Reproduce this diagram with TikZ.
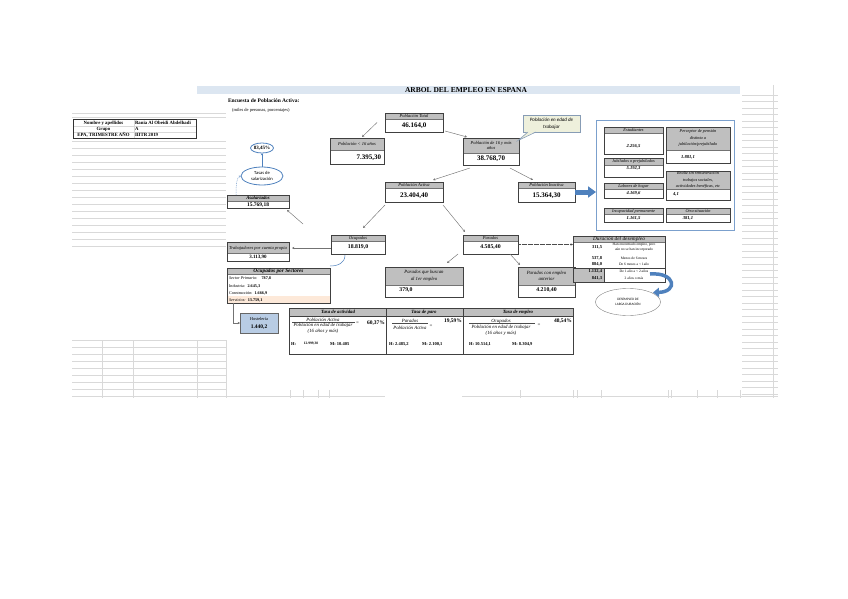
\documentclass[tikz,border=0pt]{standalone}
\usepackage{fontspec}
\setmainfont{Liberation Serif}
\newfontfamily\zSans{Carlito}
\usetikzlibrary{fit,shapes.geometric,arrows.meta}
\definecolor{hdrgray}{HTML}{BFBFBF}
\definecolor{titlebar}{HTML}{DCE6F1}
\definecolor{eblue}{HTML}{4F81BD}
\definecolor{lblue}{HTML}{B8CCE4}
\definecolor{peach}{HTML}{FDE9D9}
\definecolor{callfill}{HTML}{EEF0DC}
\newcommand\zH{\fontsize{4.5}{5.5}\selectfont\itshape}
\newcommand\zHB{\fontsize{4.8}{5.5}\selectfont\itshape\bfseries}
\newcommand\zV{\fontsize{7}{8}\selectfont\bfseries}
\newcommand\zVm{\fontsize{5.8}{7}\selectfont\bfseries}
\newcommand\zR{\fontsize{4.3}{6.3}\selectfont\itshape}
\newcommand\zRV{\fontsize{4.6}{5.5}\selectfont\itshape\bfseries}
\newcommand\zT{\fontsize{4.8}{5.5}\selectfont\bfseries}
\newcommand\zD{\fontsize{3.6}{4.4}\selectfont}
\newcommand\zDN{\fontsize{4.5}{5}\selectfont\bfseries}
\newcommand\zS{\fontsize{4.2}{5}\selectfont}
\newcommand\zF{\fontsize{4.8}{5.5}\selectfont\itshape}
\newcommand\zP{\fontsize{5.5}{6}\selectfont\bfseries}
\newcommand\zB{\fontsize{4.5}{5}\selectfont\bfseries}
\tikzset{
  frame/.style={draw=black!75, line width=0.9pt, inner sep=0pt},
  arr/.style={draw=black!55, line width=0.45pt, -{Stealth[length=2.4pt,width=2.4pt]}},
  gridl/.style={draw=black!15, line width=0.35pt},
}
\newcommand\ebox[6]{%
  \fill[hdrgray] (#2,#3) rectangle (#4,#6);
  \draw[black!55,line width=0.3pt] (#2,#6) -- (#4,#6);
  \node[frame,fit={(#2,#3) (#4,#5)}] (#1) {};}
\begin{document}
\begin{tikzpicture}[x=1pt,y=-1pt, every node/.style={inner sep=0pt, outer sep=0pt}]
\useasboundingbox (0,0) rectangle (848,599);
% ---------- faint spreadsheet grid ----------
\foreach \y in {113,117,141,148,...,246} {\draw[gridl] (72,\y) -- (226,\y);}
\foreach \y in {340,347,...,389} {\draw[gridl] (72,\y) -- (226,\y);}
\foreach \x in {102,133,197,226} {\draw[gridl] (\x,340) -- (\x,398);}
\foreach \y in {95,101.5,...,395} {\draw[gridl] (742,\y) -- (778,\y);}
\draw[gridl] (773,85) -- (773,398);
\draw[gridl] (72,396) -- (385,396);
\draw[gridl] (462,396) -- (778,396);
\foreach \x in {290,303,318,329,520,573,577,601,668,671,697,717,740} {\draw[gridl] (\x,390) -- (\x,398);}
% ---------- title ----------
\fill[titlebar] (197,86) rectangle (740,94);
\node (title) at (466,90) {\fontsize{7.5}{8}\selectfont\bfseries ARBOL DEL EMPLEO EN ESPANA};
\node[anchor=west] (enc) at (228,101) {\fontsize{5.5}{6}\selectfont\bfseries Encuesta de Población Activa:};
\node[anchor=west] (miles) at (232,110) {\fontsize{4.5}{5}\selectfont (miles de personas, porcentajes)};
% ---------- left table ----------
\draw[gridl] (73,126) -- (196,126);
\draw[gridl] (73,132) -- (196,132);
\draw[gridl] (134,119) -- (134,138);
\node[draw=black!80, line width=0.8pt, fit={(73,119) (196,138)}] (ltab) {};
\node (l1a) at (103.5,123) {\zT Nombre y apellidos};
\node[anchor=west] (l1b) at (135,123) {\zT Rania Al Obeidi Abdelhadi};
\node (l2a) at (103.5,129) {\zT Grupo};
\node[anchor=west] (l2b) at (135,129) {\zT A};
\node (l3a) at (103.5,135) {\zT EPA, TRIMESTRE AÑO};
\node[anchor=west] (l3b) at (135,135) {\zT IIITR 2019};
% ---------- main tree boxes ----------
\ebox{tot}{385}{113}{443}{132}{119}
\node (toth) at (414,116) {\zH Población Total};
\node (totv) at (414,126) {\zV 46.164,0};
\ebox{men}{330}{138}{384}{164}{150}
\node (menh) at (357,144) {\zH Población < 16 años};
\node[anchor=east] (menv) at (381,158) {\zV 7.395,30};
\ebox{may}{463}{138}{519}{165}{153}
\node[align=center, font=\zH] (mayh) at (491,145.5) {Población de 16 y más\\años};
\node (mayv) at (491,159) {\zV 38.768,70};
\ebox{act}{385}{182}{443}{202}{188}
\node (acth) at (414,185) {\zH Población Activa};
\node (actv) at (414,195.5) {\zV 23.404,40};
\ebox{ina}{518}{182}{575}{202}{188}
\node (inah) at (546.5,185) {\zH Población Inactiva};
\node (inav) at (546.5,195.5) {\zV 15.364,30};
\ebox{ocu}{331}{235}{385}{254}{241}
\node (ocuh) at (358,238) {\zH Ocupados};
\node (ocuv) at (358,247.5) {\zVm 18.819,0};
\ebox{par}{463}{235}{518}{254}{241}
\node (parh) at (490.5,238) {\zH Parados};
\node (parv) at (490.5,247.5) {\zVm 4.585,40};
\ebox{bus}{385}{267}{463}{297}{285}
\node[align=center, font=\fontsize{4.8}{6.5}\selectfont\itshape] (bush) at (424,276) {Parados que buscan\\al 1er empleo};
\node (busv) at (406,290.5) {\zVm 379,0};
\ebox{ant}{518}{267}{575}{297}{285}
\node[align=center, font=\fontsize{4.8}{6.5}\selectfont\itshape] (anth) at (546.5,276) {Parados con empleo\\anterior};
\node (antv) at (546.5,290.5) {\zVm 4.210,40};
% callout
\node[draw=eblue!70!black!60, fill=callfill, line width=0.6pt, minimum width=57pt, minimum height=17pt, align=center, font=\zSans\itshape\fontsize{5}{6.5}\selectfont] (cal) at (551.5,123.5) {Población en edad de\\trabajar};
\coordinate (calt) at (518,140.5);
\fill[callfill] ([xshift=5pt,yshift=0.6pt]cal.south west) -- (calt) -- ([xshift=13pt,yshift=0.6pt]cal.south west) -- cycle;
\draw[eblue!70!black!60, line width=0.6pt] ([xshift=5pt]cal.south west) -- (calt) -- ([xshift=13pt]cal.south west);
% ---------- right box (inactive) ----------
\node[draw=eblue!75, line width=0.7pt, fit={(596,120) (734,230)}] (rbox) {};
\ebox{est}{604}{127}{663}{154}{133}
\node (esth) at (633.5,130) {\zR Estudiantes};
\node (estv) at (633.5,146) {\zRV 2.256,5};
\ebox{per}{666}{127}{730}{163}{150}
\node[align=center, font=\zR] (perh) at (698,138) {Perceptor de pensión\\distinta a\\jubilación/prejubilado};
\node (perv) at (688,157) {\zRV 1.881,1};
\ebox{jub}{604}{158}{663}{177}{165}
\node (jubh) at (633.5,161.5) {\zR Jubilados o prejubilados};
\node (jubv) at (633.5,168.5) {\zRV 5.192,3};
\ebox{rea}{666}{171}{730}{200}{189}
\node[align=center, font=\zR] (reah) at (698,180) {Realiz sin remuneración\\trabajos sociales,\\actividades benéficas, etc};
\node (reav) at (676,194) {\zRV 4,1};
\ebox{lab}{604}{183}{663}{198}{189}
\node (labh) at (633.5,186) {\zR Labores de hogar};
\node (labv) at (633.5,193) {\zRV 4.169,6};
\ebox{inc}{604}{208}{663}{222}{214}
\node (inch) at (633.5,211) {\zR Incapacidad permanente};
\node (incv) at (633.5,218) {\zRV 1.161,5};
\ebox{otr}{666}{208}{730}{222}{214}
\node (otrh) at (698,211) {\zR Otra situación};
\node (otrv) at (688,218) {\zRV 381,1};
% ---------- left side ----------
\node[ellipse, draw=eblue, line width=0.8pt, minimum width=23pt, minimum height=10pt] (pct) at (262,148) {\fontsize{5}{6}\selectfont\bfseries 83,45\%};
\node[ellipse, draw=eblue, line width=0.8pt, minimum width=42pt, minimum height=18pt, align=center, font=\zSans\fontsize{4.6}{5.6}\selectfont] (tas) at (262,176) {Tasas de\\salarización};
\ebox{asa}{227}{195}{289}{208}{201}
\node (asah) at (258,198) {\zHB Asalariados};
\node (asav) at (258,205) {\fontsize{5.5}{6}\selectfont\bfseries 15.769,18};
\ebox{tra}{227}{242}{289}{261}{253}
\node (trah) at (258,248) {\zH Trabajadores por cuenta propia};
\node (trav) at (258,257.5) {\fontsize{5}{6}\selectfont\bfseries 3.113,90};
% sectores
\fill[hdrgray] (227,268) rectangle (330,274);
\fill[peach] (227,296) rectangle (330,303);
\draw[black!55,line width=0.3pt] (227,274) -- (330,274);
\node[frame, fit={(227,268) (330,303)}] (sec) {};
\node (sech) at (278.5,271) {\fontsize{5.3}{6}\selectfont\itshape\bfseries Ocupados por Sectores};
\node[anchor=west] (s1) at (229,278.5) {\zS\itshape Sector Primario:\hspace{4pt}\upshape\bfseries 787,8};
\node[anchor=west] (s2) at (229,286) {\zS Industria:\hspace{2.5pt}\bfseries 2.645,3};
\node[anchor=west] (s3) at (229,293) {\zS Construcción:\hspace{2pt}\bfseries 1.666,9};
\node[anchor=west] (s4) at (229,300) {\zS\itshape Servicios:\hspace{2pt}\upshape\bfseries 13.759,1};
\node[draw=black!60, line width=0.6pt, fill=lblue, minimum width=38pt, minimum height=20pt] (hos) at (259,323) {};
\node (hosh) at (259,319) {\fontsize{4.4}{5}\selectfont Hostelería};
\node (hosv) at (259,327.5) {\fontsize{5.5}{6}\selectfont\bfseries 1.440,2};
% ---------- duration box ----------
\fill[hdrgray] (573,236) rectangle (665,242);
\fill[hdrgray] (573,268) rectangle (604,282);
\draw[black!55, line width=0.3pt] (573,242) -- (665,242);
\draw[black!75, line width=0.6pt] (573,268) -- (665,268);
\draw[black!75, line width=0.6pt] (604,268) -- (604,282);
\node[frame, fit={(573,236) (665,282)}] (dur) {};
\node (durh) at (619,239) {\fontsize{5.3}{6}\selectfont\itshape Duración del desempleo};
\node[anchor=east] (d1n) at (602,247) {\zDN 311,5};
\node[align=center, font=\zD] (d1t) at (634,247) {Han encontrado empleo, pero\\aún no se han incorporado};
\node[anchor=east] (d2n) at (602,258) {\zDN 537,8};
\node (d2t) at (634,258) {\zD Menos de 6 meses};
\node[anchor=east] (d3n) at (602,264) {\zDN 884,0};
\node (d3t) at (634,264) {\zD De 6 meses a < 1año};
\node[anchor=east] (d4n) at (602,271.5) {\zDN 1.132,4};
\node (d4t) at (634,271.5) {\zD De 1 año a < 2 años};
\node[anchor=east] (d5n) at (602,278) {\zDN 841,3};
\node (d5t) at (634,278) {\zD 2 años o más};
\node[ellipse, draw=black!50, line width=0.4pt, minimum width=65pt, minimum height=27pt, align=center, font=\zSans\fontsize{3.4}{4.6}\selectfont] (ldu) at (628,302) {DESEMPLEO DE\\LARGA DURACIÓN};
% ---------- bottom table ----------
\fill[hdrgray] (289,308) rectangle (573,316);
\draw[black!75, line width=0.6pt] (289,316) -- (573,316);
\draw[black!75, line width=0.6pt] (386,308) -- (386,354);
\draw[black!75, line width=0.6pt] (463,308) -- (463,354);
\node[frame, fit={(289,308) (573,354)}] (btab) {};
\node (tah) at (338,312) {\zHB Tasa de actividad};
\node (tph) at (424,312) {\zHB Tasa de paro};
\node (teh) at (518,312) {\zHB Tasa de empleo};
\node (tan) at (323,319.5) {\zF Población Activa};
\draw[black!70, line width=0.3pt] (292,322.5) -- (355,322.5);
\node (tad) at (323,325.5) {\zF Población en edad de trabajar};
\node (tad2) at (323,331.5) {\zF (16 años y más)};
\node (taeq) at (357.5,323) {\zF =};
\node (tav) at (376,323.5) {\zP 60,37\%};
\node[anchor=west] (tahh) at (291,344) {\zB H:};
\node (tahv) at (311,344) {\fontsize{3.6}{4}\selectfont\bfseries 12.999,30};
\node[anchor=west] (tam) at (330,344) {\zB M: 10.405};
\node (tpn) at (410,320.5) {\zF Parados};
\draw[black!70, line width=0.3pt] (392,323.5) -- (428,323.5);
\node (tpd) at (410,327.5) {\zF Población Activa};
\node (tpeq) at (431,326) {\zF =};
\node (tpv) at (453,321.5) {\zP 19,59\%};
\node[anchor=west] (tphv) at (389,344) {\zB H: 2.485,2};
\node[anchor=west] (tpm) at (422,344) {\zB M: 2.100,1};
\node (ten) at (501,321) {\zF Ocupados};
\draw[black!70, line width=0.3pt] (469,323.5) -- (535,323.5);
\node (ted) at (501,327) {\zF Población en edad de trabajar};
\node (ted2) at (501,333) {\zF (16 años y más)};
\node (teeq) at (539,325) {\zF =};
\node (tev) at (563,321.5) {\zP 48,54\%};
\node[anchor=west] (tehv) at (469,344) {\zB H: 10.514,1};
\node[anchor=west] (tem) at (512,344) {\zB M: 8.304,9};
% ---------- connectors ----------
\draw[arr] ([xshift=-8pt]tot.west) -- ([xshift=5pt,yshift=1pt]men.north);
\draw[arr] ([xshift=2pt,yshift=1pt]tot.south east) -- ([xshift=4pt,yshift=1pt]may.north west);
\draw[arr] ([xshift=7pt,yshift=-3pt]may.south west) -- ([xshift=-10pt,yshift=2pt]act.north east);
\draw[arr] ([xshift=-9pt,yshift=-3pt]may.south east) -- ([xshift=15pt,yshift=2pt]ina.north west);
\draw[arr] ([yshift=-3pt]act.south west) -- ([xshift=-22pt,yshift=7pt]ocu.north east);
\draw[arr] ([yshift=-3pt]act.south east) -- ([xshift=2pt,yshift=3pt]par.north west);
\draw[arr] ([xshift=-28pt,yshift=11pt]ocu.north west) -- ([xshift=-2pt,yshift=-2pt]asa.south east);
\draw[arr] ([yshift=-3.5pt]ocu.west) -- ([xshift=3pt,yshift=3.5pt]tra.east);
\draw[arr] ([xshift=-5pt]par.south west) -- ([xshift=-16pt,yshift=4pt]bus.north east);
\draw[arr] ([xshift=-8pt]par.south east) -- ([xshift=2pt,yshift=2pt]ant.north west);
\draw[black!70, line width=0.5pt, dash pattern=on 0.6pt off 0.6pt, -{Stealth[length=2.4pt,width=2.2pt]}] (par.east) -- (par.east -| dur.west);
\draw[arr] ([xshift=6pt]sec.south west) |- (hos.west);
\draw[eblue, line width=0.5pt, -{Stealth[length=2.4pt,width=2.2pt]}] (tas.north) -- (pct.south);
\draw[eblue!70, line width=0.5pt, dash pattern=on 1pt off 0.8pt, -{Stealth[length=2.2pt,width=2pt]}] ([xshift=9pt]asa.north west) .. controls (236,183) and (237,177) .. (tas.west);
\draw[eblue, line width=0.5pt] ([xshift=14pt,yshift=-1pt]ocu.south west) .. controls (345,263) and (338,266) .. ([yshift=2pt]sec.north east);
\draw[eblue, line width=5pt, -{Triangle[length=8pt,width=11pt]}] (ina.east) -- (ina.east -| rbox.west);
\coordinate (cas) at (650,274);
\draw[eblue, line width=3.5pt, -{Triangle[length=6pt,width=9pt]}] (cas) .. controls (676,272) and (678,292) .. ([xshift=2pt]ldu.north east);
\end{tikzpicture}
\end{document}
